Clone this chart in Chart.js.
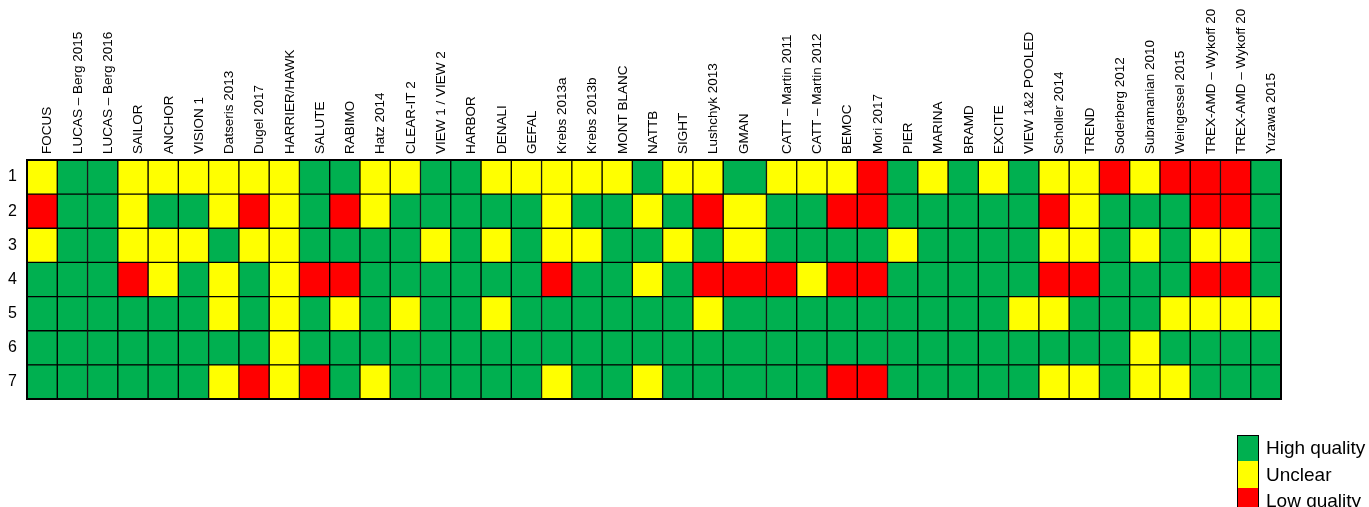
<!DOCTYPE html>
<html>
<head>
<meta charset="utf-8">
<script src="https://cdn.jsdelivr.net/npm/chart.js@4.4.1/dist/chart.umd.min.js"></script>
<style>
  html, body { margin: 0; padding: 0; background: #fff; }
  #wrap { position: relative; width: 1369px; height: 507px; overflow: hidden; }
  #legend {
    position: absolute; left: 1237px; top: 435px;
    font-family: "Liberation Sans", Arial, sans-serif; font-size: 19px; color: #000;
  }
  #legend .item { display: flex; align-items: center; height: 26.5px; }
  #legend .box { width: 20px; height: 25.5px; border: 1px solid #000; margin-right: 7px; box-sizing: content-box; }
  #legend .item + .item .box { border-top: none; height: 26.5px; }
</style>
</head>
<body>
<div id="wrap">
  <canvas id="chart" width="1369" height="507"></canvas>
  <div id="legend"></div>
</div>
<script>
// Study names, left to right
const studies = [
  'FOCUS', 'LUCAS \u2013 Berg 2015', 'LUCAS \u2013 Berg 2016', 'SAILOR', 'ANCHOR', 'VISION 1',
  'Datseris 2013', 'Dugel 2017', 'HARRIER/HAWK', 'SALUTE', 'RABIMO', 'Hatz 2014', 'CLEAR-IT 2',
  'VIEW 1 / VIEW 2', 'HARBOR', 'DENALI', 'GEFAL', 'Krebs 2013a', 'Krebs 2013b', 'MONT BLANC',
  'NATTB', 'SIGHT', 'Lushchyk 2013', 'GMAN', 'CATT \u2013 Martin 2011', 'CATT \u2013 Martin 2012',
  'BEMOC', 'Mori 2017', 'PIER', 'MARINA', 'BRAMD', 'EXCITE', 'VIEW 1&2 POOLED', 'Scholler 2014',
  'TREND', 'Soderberg 2012', 'Subramanian 2010', 'Weingessel 2015', 'TREX-AMD \u2013 Wykoff 20',
  'TREX-AMD \u2013 Wykoff 20', 'Yuzawa 2015'
];

// Risk-of-bias domains (rows)
const domains = ['1', '2', '3', '4', '5', '6', '7'];

// H = high quality, U = unclear, L = low quality; one array per domain
const domain1 = ['U','H','H','U','U','U','U','U','U','H','H','U','U','H',
                 'H','U','U','U','U','U','H','U','U','H','U','U','U','L',
                 'H','U','H','U','H','U','U','L','U','L','L','L','H'];
const domain2 = ['L','H','H','U','H','H','U','L','U','H','L','U','H','H',
                 'H','H','H','U','H','H','U','H','L','U','H','H','L','L',
                 'H','H','H','H','H','L','U','H','H','H','L','L','H'];
const domain3 = ['U','H','H','U','U','U','H','U','U','H','H','H','H','U',
                 'H','U','H','U','U','H','H','U','H','U','H','H','H','H',
                 'U','H','H','H','H','U','U','H','U','H','U','U','H'];
const domain4 = ['H','H','H','L','U','H','U','H','U','L','L','H','H','H',
                 'H','H','H','L','H','H','U','H','L','L','L','U','L','L',
                 'H','H','H','H','H','L','L','H','H','H','L','L','H'];
const domain5 = ['H','H','H','H','H','H','U','H','U','H','U','H','U','H',
                 'H','U','H','H','H','H','H','H','U','H','H','H','H','H',
                 'H','H','H','H','U','U','H','H','H','U','U','U','U'];
const domain6 = ['H','H','H','H','H','H','H','H','U','H','H','H','H','H',
                 'H','H','H','H','H','H','H','H','H','H','H','H','H','H',
                 'H','H','H','H','H','H','H','H','U','H','H','H','H'];
const domain7 = ['H','H','H','H','H','H','U','L','U','L','H','U','H','H',
                 'H','H','H','U','H','H','U','H','H','H','H','H','L','L',
                 'H','H','H','H','H','U','U','H','U','U','H','H','H'];

const ratingCodes = ['H', 'U', 'L'];
const ratingNames = ['High quality', 'Unclear', 'Low quality'];

const ratings = [domain1, domain2, domain3, domain4, domain5, domain6, domain7];
const colors = { H: '#00b050', U: '#ffff00', L: '#ff0000' };

// GMAN sits in a wider cell than the rest
const colWidth = studies.map(s => s === 'GMAN' ? 1.43 : 1);
const edges = [0];
colWidth.forEach(w => edges.push(edges[edges.length - 1] + w));
const labelPos = edges.slice(0, -1).map(e => e + 0.66);

const datasets = studies.map((name, c) => ({
  label: name,
  data: domains.map(() => [edges[c], edges[c + 1]]),
  backgroundColor: ratings.map(row => colors[row[c]]),
  borderColor: '#000',
  borderWidth: 1,
  borderSkipped: false,
  barPercentage: 1,
  categoryPercentage: 1,
  grouped: false
}));

const gridOutline = {
  id: 'gridOutline',
  afterDatasetsDraw(chart) {
    const a = chart.chartArea;
    const ctx = chart.ctx;
    ctx.save();
    ctx.strokeStyle = '#000';
    ctx.lineWidth = 2;
    ctx.strokeRect(a.left, a.top, a.right - a.left, a.bottom - a.top);
    ctx.restore();
  }
};

new Chart(document.getElementById('chart'), {
  type: 'bar',
  data: { labels: domains, datasets: datasets },
  plugins: [gridOutline],
  options: {
    indexAxis: 'y',
    responsive: false,
    animation: false,
    devicePixelRatio: 1,
    layout: { padding: { top: 0, left: 0, right: 88, bottom: 108 } },
    plugins: { legend: { display: false }, tooltip: { enabled: false } },
    scales: {
      x: {
        type: 'linear',
        position: 'top',
        min: 0,
        max: edges[edges.length - 1],
        grid: { display: false, drawTicks: false },
        border: { display: false },
        afterBuildTicks: scale => { scale.ticks = labelPos.map(v => ({ value: v })); },
        afterFit: scale => { scale.height = 160; },
        ticks: {
          autoSkip: false,
          minRotation: 90,
          maxRotation: 90,
          padding: 6,
          labelOffset: 17,
          color: '#000',
          font: { family: '"Liberation Sans", Arial, sans-serif', size: 13.5 },
          callback: (v, i) => studies[i]
        }
      },
      y: {
        type: 'category',
        offset: true,
        grid: { display: false, drawTicks: false },
        border: { display: false },
        afterFit: scale => { scale.width = 27; },
        ticks: {
          padding: 10,
          color: '#000',
          font: { family: '"Liberation Sans", Arial, sans-serif', size: 16 }
        }
      }
    }
  }
});

// Legend box, stacked swatches
const legend = document.getElementById('legend');
ratingCodes.forEach((code, i) => {
  const item = document.createElement('div');
  item.className = 'item';
  const box = document.createElement('span');
  box.className = 'box';
  box.style.background = colors[code];
  const txt = document.createElement('span');
  txt.textContent = ratingNames[i];
  item.appendChild(box);
  item.appendChild(txt);
  legend.appendChild(item);
});
</script>
</body>
</html>
